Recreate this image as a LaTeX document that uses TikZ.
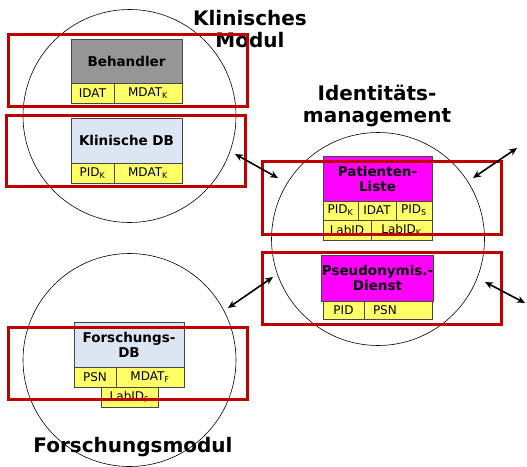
\documentclass[tikz,border=0pt]{standalone}
\usepackage{fontspec}
\setmainfont{DejaVu Sans}
\usetikzlibrary{arrows.meta}
\definecolor{framered}{RGB}{192,0,0}
\definecolor{headgray}{RGB}{150,150,150}
\definecolor{dbblue}{RGB}{220,230,242}
\definecolor{cellyellow}{RGB}{255,255,102}
\definecolor{listpink}{RGB}{255,0,255}
\definecolor{boxline}{RGB}{70,70,70}
\tikzstyle{modul} = [circle,draw,line width=.6pt,minimum size=213pt,inner sep=0]
\tikzstyle{frame} = [rectangle,draw=framered,line width=3pt,minimum width=239pt,minimum height=72pt,inner sep=0]
\tikzstyle{head} = [rectangle,draw=boxline,line width=.8pt,inner sep=0,align=center,minimum height=45pt,font=\fontsize{13.5}{15}\selectfont\bfseries]
\tikzstyle{cell} = [rectangle,draw=boxline,line width=.8pt,fill=cellyellow,inner sep=0,minimum height=20pt,font=\fontsize{12}{14}\selectfont]
\tikzstyle{title} = [align=center,inner sep=0,font=\fontsize{20}{22}\selectfont\bfseries]
\tikzstyle{link} = [{Stealth[length=8pt,width=7pt]}-{Stealth[length=8pt,width=7pt]},line width=1.6pt]
\newcommand{\idx}[1]{\textsubscript{#1}}

\begin{document}
\begin{tikzpicture}[x=1pt,y=-1pt]
	\useasboundingbox (0,0) rectangle (527,466);
	% modules
	\node [modul](klin) at (129.5,116){};
	\node [modul](ident) at (378,239){};
	\node [modul](forsch) at (129.5,360){};

	% klinisches modul
	\node [head,fill=headgray,minimum width=111pt,minimum height=44pt](beh) at (126.5,61){Behandler};
	\node [cell,minimum width=43pt](beh1) at (92.5,93){IDAT};
	\node [cell,minimum width=68pt](beh2) at (148,93){MDAT\idx{K}};
	\node [head,fill=dbblue,minimum width=111pt](kdb) at (126.5,140.5){Klinische DB};
	\node [cell,minimum width=43pt](kdb1) at (92.5,173){PID\idx{K}};
	\node [cell,minimum width=68pt](kdb2) at (148,173){MDAT\idx{K}};

	% identitaetsmanagement
	\node [head,fill=listpink,minimum width=109pt](pl) at (377.5,178.5){Patienten-\\Liste};
	\node [cell,minimum width=35pt,minimum height=19pt](pl1) at (340.5,210.5){PID\idx{K}};
	\node [cell,minimum width=38pt,minimum height=19pt](pl2) at (377,210.5){IDAT};
	\node [cell,minimum width=36pt,minimum height=19pt](pl3) at (414,210.5){PID\idx{S}};
	\node [cell,minimum width=48pt](pl4) at (347,230){LabID};
	\node [cell,minimum width=61pt](pl5) at (401.5,230){LabID\idx{K}};
	\node [head,fill=listpink,minimum width=109pt,minimum height=46pt](pd) at (377.5,278){Pseudonymis.-\\Dienst};
	\node [cell,minimum width=41pt,minimum height=18pt](pd1) at (343.5,310){PID};
	\node [cell,minimum width=68pt,minimum height=18pt,text width=50pt](pd2) at (398,310){PSN};

	% forschungsmodul
	\node [head,fill=dbblue,minimum width=110pt](fdb) at (129,344.5){Forschungs-\\DB};
	\node [cell,minimum width=42pt](fdb1) at (95,377){PSN};
	\node [cell,minimum width=68pt](fdb2) at (150,377){MDAT\idx{F}};
	\node [cell,minimum width=57pt](fdb3) at (129.5,397){LabID\idx{F}};

	% titles
	\node [title](tklin) at (250,29){Klinisches\\Modul};
	\node [title](tident) at (377,106){Identitäts-\\management};
	\node [title,anchor=base](tforsch) at (133,452){Forschungsmodul};

	% frames
	\node [frame](r1) at (128,70.5){};
	\node [frame,minimum height=71pt](r2) at (126,151){};
	\node [frame,minimum height=73pt](r3) at (382,198){};
	\node [frame](r4) at (382,288.5){};
	\node [frame](r5) at (128,363.5){};

	% links
	\coordinate (a1) at (235,154);
	\coordinate (b1) at (278,178);
	\coordinate (a2) at (473,178);
	\coordinate (b2) at (517,148);
	\coordinate (a3) at (228,308);
	\coordinate (b3) at (273,277);
	\coordinate (a4) at (485,282);
	\coordinate (b4) at (525,303);
	\draw[link](a1)--(b1);
	\draw[link](a2)--(b2);
	\draw[link](a3)--(b3);
	\draw[link](a4)--(b4);
\end{tikzpicture}
\end{document}
